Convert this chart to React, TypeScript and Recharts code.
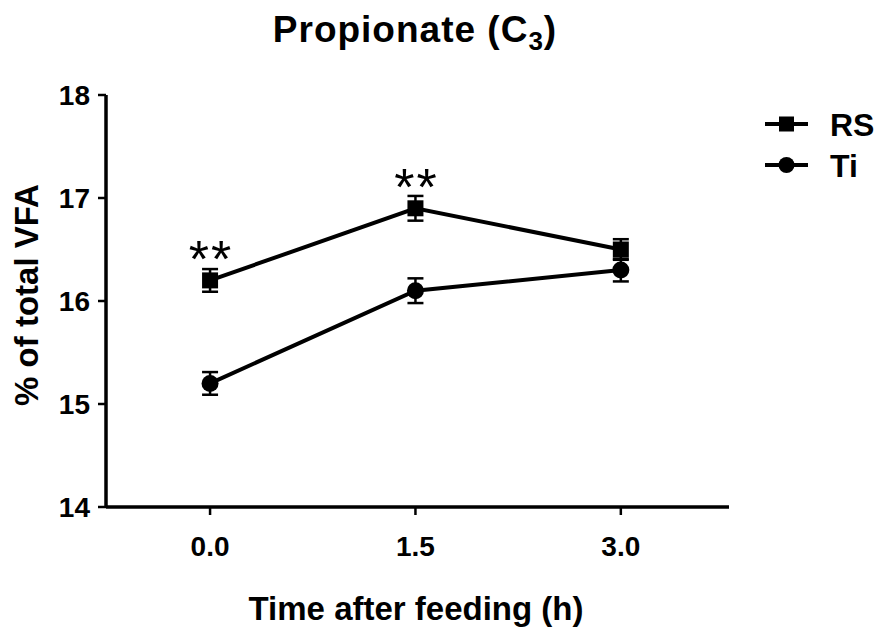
import React from "react";
import {
  LineChart,
  Line,
  XAxis,
  YAxis,
  ErrorBar,
  LabelList,
  Legend,
  Customized,
} from "recharts";

const times = [0, 1.5, 3.0];
const rsMeans = [16.2, 16.9, 16.5];
const rsSem = [0.11, 0.12, 0.1];
const tiMeans = [15.2, 16.1, 16.3];
const tiSem = [0.11, 0.12, 0.11];
const significance = ["**", "**", ""];
const xTicks = [0, 1.5, 3.0];
const yTicks = [14, 15, 16, 17, 18];
const seriesNames = ["RS", "Ti"];

const data = times.map((t, i) => ({
  time: t,
  rs: rsMeans[i],
  rsErr: rsSem[i],
  ti: tiMeans[i],
  tiErr: tiSem[i],
  sig: significance[i],
}));

const FONT = '"Liberation Sans", Arial, Helvetica, sans-serif';

const SquareDot = (props: any) => {
  const { cx, cy } = props;
  if (cx == null || cy == null) return null;
  return <rect x={cx - 8} y={cy - 8} width={16} height={16} fill="#000" />;
};

const CircleDot = (props: any) => {
  const { cx, cy } = props;
  if (cx == null || cy == null) return null;
  return <circle cx={cx} cy={cy} r={8.5} fill="#000" />;
};

const XTick = (props: any) => {
  const { x, y, payload } = props;
  return (
    <text
      x={x}
      y={y}
      dy="0.71em"
      textAnchor="middle"
      fontFamily={FONT}
      fontWeight="bold"
      fontSize={28}
      fill="#000"
    >
      {Number(payload.value).toFixed(1)}
    </text>
  );
};

const YTick = (props: any) => {
  const { x, y, payload } = props;
  return (
    <text
      x={x}
      y={y}
      dy="0.36em"
      textAnchor="end"
      fontFamily={FONT}
      fontWeight="bold"
      fontSize={28}
      fill="#000"
    >
      {payload.value}
    </text>
  );
};

const StarLabel = (props: any) => {
  const { x, y, value } = props;
  if (!value) return null;
  return (
    <text
      x={x + 1}
      y={y - 3}
      textAnchor="middle"
      fontFamily={FONT}
      fontSize={52}
      letterSpacing={2}
      fill="#000"
    >
      {value}
    </text>
  );
};

const LegendContent = (props: any) => {
  const payload = props.payload || [];
  return (
    <svg width={124} height={90} style={{ display: "block" }}>
      {payload.map((entry: any, i: number) => {
        const cy = 24 + i * 41;
        return (
          <g key={i}>
            <line x1={5} x2={48} y1={cy} y2={cy} stroke="#000" strokeWidth={4} />
            {i === 0 ? (
              <rect x={19} y={cy - 7.5} width={15} height={15} fill="#000" />
            ) : (
              <circle cx={26.5} cy={cy} r={8} fill="#000" />
            )}
            <text
              x={70}
              y={cy + 11.5}
              fontFamily={FONT}
              fontWeight="bold"
              fontSize={32}
              fill="#000"
            >
              {entry.value}
            </text>
          </g>
        );
      })}
    </svg>
  );
};

const Titles = () => (
  <g>
    <text
      x={415}
      y={42}
      textAnchor="middle"
      fontFamily={FONT}
      fontWeight="bold"
      fontSize={37}
      letterSpacing={1}
      fill="#000"
    >
      Propionate (C
      <tspan fontSize={26} dy={8}>3</tspan>
      <tspan dy={-8}>)</tspan>
    </text>
    <text
      x={416}
      y={620}
      textAnchor="middle"
      fontFamily={FONT}
      fontWeight="bold"
      fontSize={33}
      fill="#000"
    >
      Time after feeding (h)
    </text>
    <text
      x={38}
      y={295}
      transform="rotate(-90 38 295)"
      textAnchor="middle"
      fontFamily={FONT}
      fontWeight="bold"
      fontSize={33}
      fill="#000"
    >
      % of total VFA
    </text>
  </g>
);

export default function App() {
  return (
    <div style={{ position: "absolute", left: 0, top: 0, width: 884, height: 633, background: "#fff" }}>
      <LineChart
        width={884}
        height={633}
        data={data}
        margin={{ top: 95, right: 155, bottom: 0, left: 0 }}
      >
        <XAxis
          dataKey="time"
          type="number"
          domain={[-0.76, 3.79]}
          ticks={xTicks}
          allowDataOverflow
          height={126}
          axisLine={{ stroke: "#000", strokeWidth: 3.5 }}
          tickLine={{ stroke: "#000", strokeWidth: 2.5 }}
          tickSize={8}
          tickMargin={21}
          tick={<XTick />}
        />
        <YAxis
          type="number"
          domain={[14, 18]}
          ticks={yTicks}
          allowDataOverflow
          width={106}
          axisLine={{ stroke: "#000", strokeWidth: 3.5 }}
          tickLine={{ stroke: "#000", strokeWidth: 2.5 }}
          tickSize={8}
          tickMargin={8}
          tick={<YTick />}
        />
        <Legend
          layout="horizontal"
          align="center"
          verticalAlign="middle"
          wrapperStyle={{ position: "absolute", left: 760, top: 100, width: 124, height: 90 }}
          content={<LegendContent />}
        />
        <Line
          dataKey="rs"
          name={seriesNames[0]}
          stroke="#000"
          strokeWidth={4}
          dot={<SquareDot />}
          activeDot={false}
          isAnimationActive={false}
        >
          <ErrorBar dataKey="rsErr" width={8} stroke="#000" strokeWidth={2.5} direction="y" />
          <LabelList dataKey="sig" content={<StarLabel />} />
        </Line>
        <Line
          dataKey="ti"
          name={seriesNames[1]}
          stroke="#000"
          strokeWidth={4}
          dot={<CircleDot />}
          activeDot={false}
          isAnimationActive={false}
        >
          <ErrorBar dataKey="tiErr" width={8} stroke="#000" strokeWidth={2.5} direction="y" />
        </Line>
        <Customized component={<Titles />} />
      </LineChart>
    </div>
  );
}
